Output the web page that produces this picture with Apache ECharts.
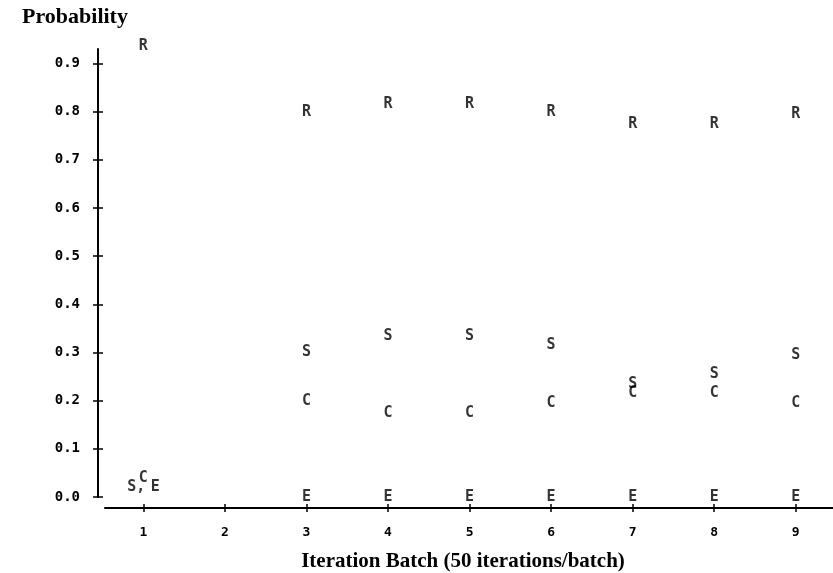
<!DOCTYPE html>
<html>
<head>
<meta charset="utf-8">
<script src="https://cdn.jsdelivr.net/npm/echarts@6/dist/echarts.min.js"></script>
<style>
html,body{margin:0;padding:0;background:#fff;}
#chart{width:833px;height:573px;}
</style>
</head>
<body>
<div id="chart"></div>
<script>
// ---- data ----
const batches = [1, 2, 3, 4, 5, 6, 7, 8, 9];
const probR = [0.935, null, 0.80, 0.815, 0.815, 0.80, 0.775, 0.775, 0.795];
const probS = [0.02, null, 0.30, 0.335, 0.335, 0.315, 0.235, 0.255, 0.295];
const probC = [0.04, null, 0.20, 0.175, 0.175, 0.195, 0.215, 0.215, 0.195];
const probE = [0.02, null, 0.0, 0.0, 0.0, 0.0, 0.0, 0.0, 0.0];
const yTicks = [0, 0.1, 0.2, 0.3, 0.4, 0.5, 0.6, 0.7, 0.8, 0.9];
const xTicks = [1, 2, 3, 4, 5, 6, 7, 8, 9];
const yTitle = 'Probability';
const xTitle = 'Iteration Batch (50 iterations/batch)';

const mono = 'DejaVu Sans Mono';
const serif = 'Liberation Serif';

// points at batch 1 where S and E coincide are printed as "S,E"
function buildData(vals, letter) {
  const out = [];
  vals.forEach((v, i) => {
    if (v == null) return;
    const item = { value: [batches[i], v] };
    if (batches[i] === 1 && letter === 'S') item.label = { formatter: 'S,', offset: [-7, 0] };
    if (batches[i] === 1 && letter === 'E') item.label = { formatter: 'E', offset: [12, 0] };
    out.push(item);
  });
  return out;
}

function letterSeries(letter, vals) {
  return {
    type: 'scatter',
    name: letter,
    clip: false,
    symbol: 'circle',
    symbolSize: 1,
    itemStyle: { color: 'rgba(0,0,0,0)' },
    label: {
      show: true,
      position: 'inside',
      formatter: letter,
      color: '#000',
      fontFamily: mono,
      fontWeight: 'bold',
      fontSize: 15
    },
    emphasis: { disabled: true },
    data: buildData(vals, letter)
  };
}

const chart = echarts.init(document.getElementById('chart'), null, { renderer: 'canvas' });
chart.setOption({
  animation: false,
  backgroundColor: '#fff',
  title: {
    text: yTitle,
    left: 22,
    top: 6,
    padding: 0,
    textStyle: { fontFamily: serif, fontWeight: 'bold', fontSize: 22, color: '#000' }
  },
  grid: { left: 105, top: 49, width: 756, bottom: 76, containLabel: false, outerBoundsMode: 'none' },
  xAxis: [
    {
      type: 'value', min: 0.53, max: 9.8, position: 'bottom', offset: 11,
      axisLine: { show: true, onZero: false, lineStyle: { color: '#000', width: 2 } },
      axisTick: { show: true, length: 4, customValues: xTicks, lineStyle: { color: '#000', width: 1.5 } },
      axisLabel: {
        customValues: xTicks, margin: 18, color: '#000',
        fontFamily: mono, fontWeight: 'bold', fontSize: 13
      },
      splitLine: { show: false },
      name: xTitle, nameLocation: 'middle', nameGap: 43,
      nameTextStyle: { fontFamily: serif, fontWeight: 'bold', fontSize: 21, color: '#000', padding: [0, 40, 0, 0] }
    },
    {
      type: 'value', min: 0.53, max: 9.8, position: 'bottom', offset: 11,
      axisLine: { show: false, onZero: false },
      axisTick: { show: true, inside: true, length: 4, customValues: xTicks, lineStyle: { color: '#000', width: 1.5 } },
      axisLabel: { show: false },
      splitLine: { show: false }
    }
  ],
  yAxis: [
    {
      type: 'value', min: 0, max: 0.93, position: 'left', offset: 7,
      axisLine: { show: true, onZero: false, lineStyle: { color: '#000', width: 2 } },
      axisTick: { show: true, length: 5, customValues: yTicks, lineStyle: { color: '#000', width: 1.5 } },
      axisLabel: {
        customValues: yTicks, margin: 18, color: '#000',
        fontFamily: mono, fontWeight: 'bold', fontSize: 14,
        formatter: v => Number(v).toFixed(1)
      },
      splitLine: { show: false }
    },
    {
      type: 'value', min: 0, max: 0.93, position: 'left', offset: 7,
      axisLine: { show: false, onZero: false },
      axisTick: { show: true, inside: true, length: 5, customValues: yTicks, lineStyle: { color: '#000', width: 1.5 } },
      axisLabel: { show: false },
      splitLine: { show: false }
    }
  ],
  series: [
    letterSeries('R', probR),
    letterSeries('S', probS),
    letterSeries('C', probC),
    letterSeries('E', probE)
  ]
});
</script>
</body>
</html>
